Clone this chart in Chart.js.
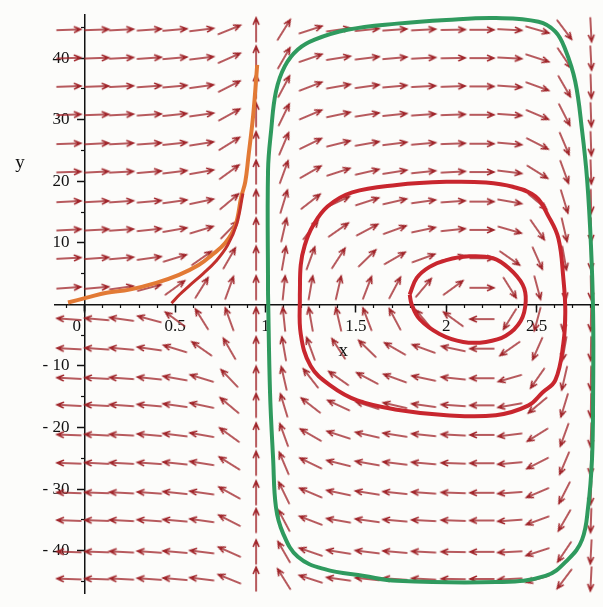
<!DOCTYPE html>
<html>
<head>
<meta charset="utf-8">
<script src="https://cdn.jsdelivr.net/npm/chart.js@4.4.1/dist/chart.umd.min.js"></script>
<style>
  body { margin: 0; background: #fcfcfa; }
  #wrap { width: 603px; height: 607px; }
</style>
</head>
<body>
<div id="wrap"><canvas id="chart" width="603" height="607"></canvas></div>
<script>
// axis ticks
var xTicks = [0, 0.5, 1, 1.5, 2, 2.5];
var xTickLabels = ['', '0.5', '1', '1.5', '2', '2.5'];
var xZeroTick = [0];
var xZeroLabel = ['0'];
var xMinorTicks = [-0.1, 0, 0.1, 0.2, 0.3, 0.4, 0.5, 0.6, 0.7, 0.8, 0.9, 1, 1.1, 1.2, 1.3, 1.4, 1.5,
                   1.6, 1.7, 1.8, 1.9, 2, 2.1, 2.2, 2.3, 2.4, 2.5, 2.6, 2.7, 2.8];
var yTicks = [40, 30, 20, 10, -10, -20, -30, -40];
var yTickLabels = ['40', '30', '20', '10', '- 10', '- 20', '- 30', '- 40'];
var yMinorTicks = [45, 35, 25, 15, 5, -5, -15, -25, -35, -45];

// direction field: arrow centres
var fieldX = [-0.088, 0.066, 0.203, 0.357, 0.499, 0.647, 0.800, 0.948, 1.102, 1.250,
              1.404, 1.563, 1.716, 1.875, 2.039, 2.198, 2.352, 2.505, 2.654, 2.801];
var fieldY = [44.6, 40.0, 35.4, 30.8, 26.1, 21.5, 16.7, 12.1, 7.5, 2.7,
              -2.4, -7.2, -12.0, -16.4, -21.2, -25.8, -30.6, -35.1, -40.2, -44.6];
// arrow direction, degrees counter-clockwise from +x (one row per fieldY)
var fieldAngle = [
  [2, 2, 3, 4, 5, 7, 22, 90, 58, 18, 8, 6, 4, 3, 1, 0, -3, -16, -53, -87],
  [2, 2, 3, 4, 5, 7, 24, 90, 60, 19, 9, 7, 5, 3, 1, 0, -3, -18, -56, -87],
  [2, 2, 3, 4, 5, 8, 27, 90, 62, 21, 10, 8, 5, 3, 2, 0, -4, -20, -60, -88],
  [2, 2, 3, 4, 6, 8, 29, 90, 64, 23, 12, 9, 6, 4, 2, 0, -4, -23, -63, -88],
  [2, 3, 3, 4, 6, 9, 32, 90, 67, 26, 14, 10, 7, 5, 2, 0, -5, -27, -67, -88],
  [2, 3, 3, 5, 7, 10, 36, 90, 70, 30, 18, 13, 9, 6, 3, 0, -7, -32, -70, -88],
  [3, 3, 4, 5, 8, 12, 40, 90, 73, 38, 25, 18, 13, 8, 4, 0, -10, -40, -73, -89],
  [3, 3, 4, 6, 10, 17, 46, 90, 77, 52, 35, 28, 20, 12, 6, 0, -16, -55, -77, -89],
  [3, 4, 5, 8, 17, 35, 60, 90, 80, 70, 57, 44, 30, 20, 12, 0, -35, -66, -80, -89],
  [4, 5, 8, 15, 36, 58, 70, 90, 84, 80, 77, 69, 62, 50, 36, 0, -58, -75, -83, -89],
  [176, 175, 172, 165, 144, 122, 110, 90, 96, 100, 103, 111, 118, 130, 144, 180, 238, 255, 263, 269],
  [177, 176, 175, 172, 163, 145, 120, 90, 100, 110, 123, 136, 150, 160, 168, 180, 215, 246, 260, 269],
  [177, 177, 176, 174, 170, 163, 134, 90, 103, 128, 145, 152, 160, 168, 174, 180, 196, 235, 257, 269],
  [177, 177, 176, 175, 172, 168, 140, 90, 107, 142, 155, 162, 167, 172, 176, 180, 190, 220, 253, 269],
  [178, 177, 177, 175, 173, 170, 144, 90, 110, 150, 162, 167, 171, 174, 177, 180, 187, 212, 250, 268],
  [178, 177, 177, 176, 174, 171, 148, 90, 113, 154, 166, 170, 173, 175, 178, 180, 185, 207, 247, 268],
  [178, 178, 177, 176, 174, 172, 151, 90, 116, 157, 168, 171, 174, 176, 178, 180, 184, 203, 243, 268],
  [178, 178, 177, 176, 175, 172, 153, 90, 118, 159, 170, 172, 175, 177, 178, 180, 184, 200, 240, 268],
  [178, 178, 177, 176, 175, 173, 156, 90, 120, 161, 171, 173, 175, 177, 179, 180, 183, 198, 236, 267],
  [178, 178, 177, 176, 175, 173, 158, 90, 122, 162, 172, 174, 176, 177, 179, 180, 183, 196, 233, 267]
];

// solution curves
var greenX = [1.014, 1.014, 1.031, 1.058, 1.107, 1.179, 1.272, 1.453, 1.727, 2.001, 2.275, 2.511, 2.604, 2.659,
              2.714, 2.752, 2.780, 2.801, 2.813, 2.813, 2.807, 2.785, 2.752, 2.675, 2.549, 2.275, 1.727, 1.546,
              1.327, 1.179, 1.096, 1.058, 1.042, 1.025, 1.014];
var greenY = [1.6, 21.8, 28.2, 34.6, 38.7, 41.4, 43.0, 44.6, 45.6, 46.2, 46.5, 45.9, 44.3, 41.4,
              36.2, 28.2, 20.2, 9.6, -1.6, -14.3, -25.0, -33.0, -38.2, -41.4, -44.1, -45.1, -44.9, -44.1,
              -43.0, -41.0, -37.1, -33.0, -25.0, -14.3, 1.6];
var midX = [1.190, 1.195, 1.217, 1.261, 1.343, 1.480, 1.727, 2.001, 2.220, 2.368, 2.495, 2.566, 2.621, 2.648,
            2.659, 2.648, 2.604, 2.533, 2.456, 2.275, 2.001, 1.727, 1.508, 1.360, 1.250, 1.195, 1.190];
var midY = [1.6, 6.4, 9.6, 12.7, 15.9, 18.2, 19.4, 19.9, 19.8, 19.1, 17.5, 14.3, 10.7, 4.3,
            -1.1, -6.4, -12.3, -14.3, -16.4, -18.0, -18.0, -17.1, -15.6, -13.2, -10.0, -4.8, 1.6];
var innerX = [1.798, 1.837, 1.908, 2.001, 2.127, 2.259, 2.346, 2.423, 2.440, 2.412, 2.330, 2.220, 2.094,
              1.963, 1.853, 1.809, 1.798];
var innerY = [1.6, 4.3, 6.1, 7.2, 7.8, 7.5, 5.9, 3.2, 0.5, -2.7, -5.1, -6.1, -6.1, -4.8, -2.4, 0, 1.6];
var orangeX = [-0.093, 0.011, 0.121, 0.247, 0.395, 0.521, 0.630, 0.702, 0.778, 0.833, 0.866, 0.888, 0.905, 0.932, 0.954];
var orangeY = [0.3, 1.1, 1.9, 2.4, 3.5, 4.8, 6.4, 8.0, 10.0, 12.8, 17.5, 19.9, 23.9, 30.8, 38.9];
var redLeftX = [0.48, 0.525, 0.585, 0.655, 0.725, 0.79, 0.84, 0.875];
var redLeftY = [0.2, 1.6, 3.2, 5.0, 7.0, 9.6, 13.0, 18.0];

function makeArrow() {
    var c = document.createElement('canvas');
    c.width = 28;
    c.height = 12;
    var g = c.getContext('2d');
    g.strokeStyle = '#a0252a';
    g.lineWidth = 1.5;
    g.lineCap = 'round';
    g.beginPath();
    g.moveTo(2, 6); g.lineTo(26, 6);
    g.moveTo(19.5, 3.2); g.lineTo(26, 6); g.lineTo(19.5, 8.8);
    g.stroke();
    return c;
}

function curve(xs, ys, color, width) {
    var pts = [];
    for (var k = 0; k < xs.length; k++) pts.push({x: xs[k], y: ys[k]});
    return {
        data: pts, showLine: true, borderColor: color, borderWidth: width,
        pointRadius: 0, tension: 0.4, fill: false, order: 0,
        xAxisID: 'x', yAxisID: 'y'
    };
}

var arrowPts = [], arrowRot = [];
for (var i = 0; i < fieldY.length; i++) {
    for (var j = 0; j < fieldX.length; j++) {
        arrowPts.push({x: fieldX[j], y: fieldY[i]});
        arrowRot.push(-fieldAngle[i][j]);
    }
}
var arrowImg = makeArrow();

var axisTitles = {
    id: 'axisTitles',
    afterDraw: function(chart) {
        var ctx = chart.ctx, xs = chart.scales.x, ys = chart.scales.y;
        ctx.save();
        ctx.font = '19px "Liberation Serif"';
        ctx.fillStyle = '#111';
        ctx.textAlign = 'center';
        ctx.textBaseline = 'middle';
        ctx.fillText('x', xs.getPixelForValue(1.43), ys.getPixelForValue(-7.5));
        ctx.fillText('y', 20, ys.getPixelForValue(23));
        ctx.restore();
    }
};

var tickFont = {family: 'Liberation Serif', size: 17};
function fixedTicks(list) {
    return function(axis) {
        axis.ticks = list.map(function(v) { return {value: v}; });
    };
}
function blank() { return ''; }

new Chart(document.getElementById('chart'), {
    type: 'scatter',
    data: {
        datasets: [
            {
                data: arrowPts, pointStyle: arrowImg, pointRadius: 3,
                rotation: function(c) { return arrowRot[c.dataIndex]; },
                showLine: false, order: 5, xAxisID: 'x', yAxisID: 'y'
            },
            curve(redLeftX, redLeftY, '#c2302c', 3),
            curve(orangeX, orangeY, '#e27a35', 4),
            curve(greenX, greenY, '#2f9a5e', 4),
            curve(midX, midY, '#c8262e', 4),
            curve(innerX, innerY, '#c8262e', 4)
        ]
    },
    options: {
        responsive: false,
        animation: false,
        events: [],
        layout: {padding: {left: 55, top: 15, right: 0, bottom: 2}},
        plugins: {legend: {display: false}, tooltip: {enabled: false}},
        scales: {
            x: {
                type: 'linear', axis: 'x', min: -0.165, max: 2.84, position: {y: 0},
                afterBuildTicks: fixedTicks(xTicks),
                ticks: {
                    autoSkip: false, maxRotation: 0, padding: 5, color: '#111', font: tickFont,
                    callback: function(v, k) { return xTickLabels[k]; }
                },
                grid: {drawOnChartArea: false, tickLength: 7, tickColor: '#111', tickWidth: 1.5},
                border: {color: '#111', width: 1.5}
            },
            // the "0" label sits just left of the y axis
            xZero: {
                type: 'linear', axis: 'x', min: -0.165, max: 2.84, position: {y: 0},
                afterBuildTicks: fixedTicks(xZeroTick),
                ticks: {
                    autoSkip: false, maxRotation: 0, padding: 5, labelOffset: -8, color: '#111', font: tickFont,
                    callback: function(v, k) { return xZeroLabel[k]; }
                },
                grid: {drawOnChartArea: false, tickLength: 7, tickColor: '#111', tickWidth: 1.5},
                border: {display: false}
            },
            xMinor: {
                type: 'linear', axis: 'x', min: -0.165, max: 2.84, position: {y: 0},
                afterBuildTicks: fixedTicks(xMinorTicks),
                ticks: {autoSkip: false, maxRotation: 0, callback: blank},
                grid: {drawOnChartArea: false, tickLength: 4, tickColor: '#111', tickWidth: 1.2},
                border: {display: false}
            },
            y: {
                type: 'linear', axis: 'y', min: -47, max: 47, position: {x: 0},
                afterBuildTicks: fixedTicks(yTicks),
                ticks: {autoSkip: false, callback: blank},
                grid: {drawOnChartArea: false, tickLength: 7, tickColor: '#111', tickWidth: 1.5},
                border: {color: '#111', width: 1.5}
            },
            yMinor: {
                type: 'linear', axis: 'y', min: -47, max: 47, position: {x: 0},
                afterBuildTicks: fixedTicks(yMinorTicks),
                ticks: {autoSkip: false, callback: blank},
                grid: {drawOnChartArea: false, tickLength: 4, tickColor: '#111', tickWidth: 1.2},
                border: {display: false}
            },
            // tick labels of the y axis, set just left of its tick marks
            yLabels: {
                type: 'linear', axis: 'y', min: -47, max: 47, position: {x: -0.085},
                afterBuildTicks: fixedTicks(yTicks),
                ticks: {
                    autoSkip: false, color: '#111', font: tickFont,
                    callback: function(v, k) { return yTickLabels[k]; }
                },
                grid: {display: false},
                border: {display: false}
            }
        }
    },
    plugins: [axisTitles]
});
</script>
</body>
</html>
